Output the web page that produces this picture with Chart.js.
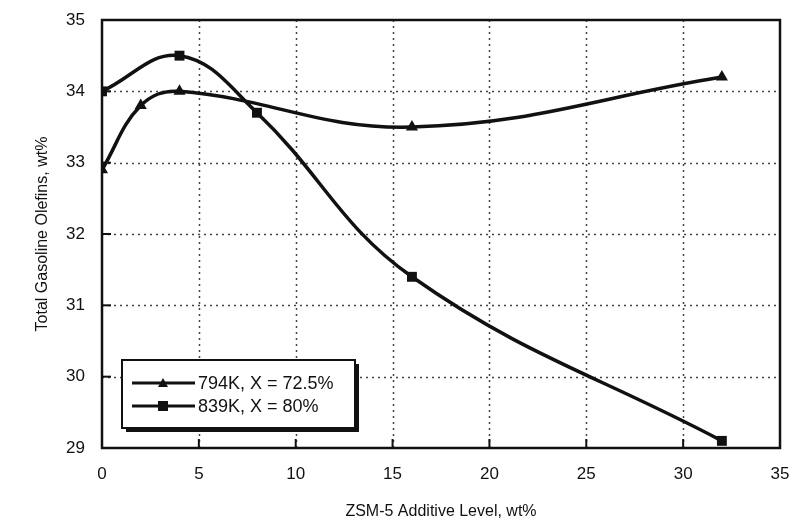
<!DOCTYPE html>
<html>
<head>
<meta charset="utf-8">
<script src="https://cdn.jsdelivr.net/npm/chart.js@4"></script>
<style>
html,body{margin:0;padding:0;background:#fff;}
#wrap{width:800px;height:521px;}
</style>
</head>
<body>
<div id="wrap"><canvas id="c" width="800" height="521"></canvas></div>
<script>
const seriesLabels = ["794K, X = 72.5%", "839K, X = 80%"];
const additive794 = [0, 2, 4, 16, 32];
const olefins794 = [32.9, 33.8, 34.0, 33.5, 34.2];
const additive839 = [0, 4, 8, 16, 32];
const olefins839 = [34.0, 34.5, 33.7, 31.4, 29.1];
const xTitle = "ZSM-5 Additive Level, wt%";
const yTitle = "Total Gasoline Olefins, wt%";

const FONT = "'Liberation Sans', Arial, Helvetica, sans-serif";

const framePlugin = {
  id: 'frame',
  beforeDatasetsDraw(chart) {
    const {ctx, chartArea: a, scales: {x, y}} = chart;
    ctx.save();
    ctx.strokeStyle = '#444';
    ctx.lineWidth = 1.5;
    ctx.setLineDash([2, 4]);
    x.ticks.forEach(t => {
      if (t.value <= x.min || t.value >= x.max) return;
      const px = Math.round(x.getPixelForValue(t.value)) + 0.5;
      ctx.beginPath(); ctx.moveTo(px, a.top); ctx.lineTo(px, a.bottom); ctx.stroke();
    });
    y.ticks.forEach(t => {
      if (t.value <= y.min || t.value >= y.max) return;
      const py = Math.round(y.getPixelForValue(t.value)) + 0.5;
      ctx.beginPath(); ctx.moveTo(a.left, py); ctx.lineTo(a.right, py); ctx.stroke();
    });
    ctx.setLineDash([]);
    ctx.strokeStyle = '#111';
    ctx.lineWidth = 2;
    x.ticks.forEach(t => {
      if (t.value <= x.min || t.value >= x.max) return;
      const px = x.getPixelForValue(t.value);
      ctx.beginPath(); ctx.moveTo(px, a.bottom); ctx.lineTo(px, a.bottom - 9); ctx.stroke();
    });
    y.ticks.forEach(t => {
      if (t.value <= y.min || t.value >= y.max) return;
      const py = y.getPixelForValue(t.value);
      ctx.beginPath(); ctx.moveTo(a.left, py); ctx.lineTo(a.left + 9, py); ctx.stroke();
    });
    ctx.restore();
  },
  afterDatasetsDraw(chart) {
    const {ctx, chartArea: a} = chart;
    ctx.save();
    ctx.strokeStyle = '#111';
    ctx.lineWidth = 2.5;
    ctx.strokeRect(a.left, a.top, a.right - a.left, a.bottom - a.top);
    const lx = a.left + 20, ly = a.bottom - 88, lw = 233, lh = 68;
    ctx.fillStyle = '#111';
    ctx.fillRect(lx + 4, ly + 4, lw, lh);
    ctx.fillStyle = '#fff';
    ctx.fillRect(lx, ly, lw, lh);
    ctx.lineWidth = 2;
    ctx.strokeRect(lx, ly, lw, lh);
    chart.data.datasets.forEach((ds, i) => {
      const cy = ly + 23 + i * 23;
      ctx.strokeStyle = '#111';
      ctx.lineWidth = 3;
      ctx.beginPath(); ctx.moveTo(lx + 10, cy); ctx.lineTo(lx + 73, cy); ctx.stroke();
      ctx.fillStyle = '#111';
      const mx = lx + 41;
      if (ds.pointStyle === 'triangle') {
        ctx.beginPath(); ctx.moveTo(mx, cy - 5); ctx.lineTo(mx + 5, cy + 4); ctx.lineTo(mx - 5, cy + 4); ctx.closePath(); ctx.fill();
      } else {
        ctx.fillRect(mx - 5, cy - 5, 10, 10);
      }
      ctx.fillStyle = '#111';
      ctx.font = "18px " + FONT;
      ctx.textBaseline = 'middle';
      ctx.textAlign = 'left';
      ctx.fillText(ds.label, lx + 76, cy + 1);
    });
    ctx.restore();
  }
};

const toPts = (xs, ys) => xs.map((v, i) => ({x: v, y: ys[i]}));

new Chart(document.getElementById('c'), {
  type: 'line',
  data: {
    datasets: [
      {
        label: seriesLabels[0],
        data: toPts(additive794, olefins794),
        borderColor: '#111', backgroundColor: '#111',
        borderWidth: 3.5, tension: 0.4,
        pointStyle: 'triangle', pointRadius: 7, pointBackgroundColor: '#111', pointBorderWidth: 0
      },
      {
        label: seriesLabels[1],
        data: toPts(additive839, olefins839),
        borderColor: '#111', backgroundColor: '#111',
        borderWidth: 3.5, tension: 0.4,
        pointStyle: 'rect', pointRadius: 7, pointBackgroundColor: '#111', pointBorderWidth: 0
      }
    ]
  },
  options: {
    responsive: false,
    animation: false,
    layout: {autoPadding: false, padding: {left: 0, right: 20, top: 20, bottom: 0}},
    plugins: {legend: {display: false}, tooltip: {enabled: false}},
    scales: {
      x: {
        type: 'linear', min: 0, max: 35,
        afterFit(s) { s.height = 73; s.paddingLeft = 0; s.paddingRight = 0; },
        grid: {display: false, drawTicks: false},
        border: {display: false},
        ticks: {stepSize: 5, color: '#111', padding: 16, font: {family: FONT, size: 17}},
        title: {display: true, text: xTitle, color: '#111', font: {family: FONT, size: 16}, padding: {top: 0, bottom: 0}}
      },
      y: {
        min: 29, max: 35,
        afterFit(s) { s.width = 102; s.paddingTop = 0; s.paddingBottom = 0; },
        grid: {display: false, drawTicks: false},
        border: {display: false},
        ticks: {stepSize: 1, color: '#111', padding: 17, font: {family: FONT, size: 17}},
        title: {display: true, text: yTitle, color: '#111', font: {family: FONT, size: 16}, padding: {top: 33, bottom: 0}}
      }
    }
  },
  plugins: [framePlugin]
});
</script>
</body>
</html>
